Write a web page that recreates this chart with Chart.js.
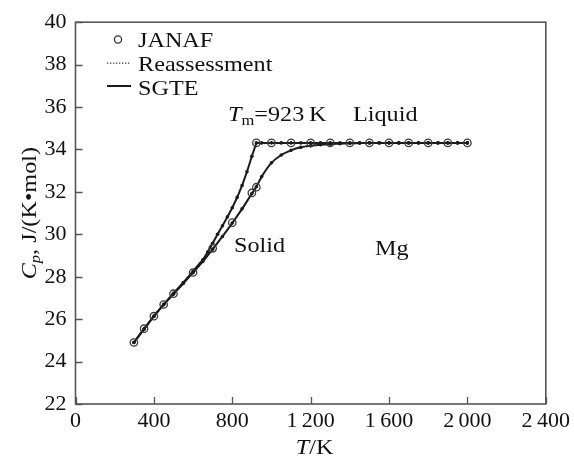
<!DOCTYPE html>
<html><head><meta charset="utf-8">
<script src="https://cdn.jsdelivr.net/npm/chart.js@4.4.1/dist/chart.umd.min.js"></script>
<style>html,body{margin:0;padding:0;background:#fff;} canvas{display:block;}</style>
</head><body>
<canvas id="c" width="574" height="459"></canvas>
<script>
// ---- data ----
const xTickValues = [0, 400, 800, 1200, 1600, 2000, 2400];
const xTickLabels = ['0', '400', '800', '1\u2009200', '1\u2009600', '2\u2009000', '2\u2009400'];
const yTickValues = [22, 24, 26, 28, 30, 32, 34, 36, 38, 40];
const yTickLabels = ['22', '24', '26', '28', '30', '32', '34', '36', '38', '40'];

// JANAF tabulated points (open circles)
const janafT  = [298, 350, 400, 450, 500, 600, 700, 800, 900, 923, 923, 1000, 1100, 1200, 1300, 1400, 1500, 1600, 1700, 1800, 1900, 2000];
const janafCp = [24.90, 25.55, 26.14, 26.69, 27.20, 28.20, 29.34, 30.55, 31.95, 32.22, 34.31, 34.31, 34.31, 34.31, 34.31, 34.31, 34.31, 34.31, 34.31, 34.31, 34.31, 34.31];

// Reassessment (steep curve with kink at Tm = 923 K)
const reassessT  = [298, 350, 400, 450, 500, 550, 600, 650, 675, 700, 725, 750, 775, 800, 825, 850, 875, 900, 923,
                    950, 1000, 1050, 1100, 1150, 1200, 1250, 1300, 1350, 1400, 1450, 1500, 1550, 1600, 1650, 1700, 1750, 1800, 1850, 1900, 1950, 2000];
const reassessCp = [24.90, 25.52, 26.14, 26.70, 27.22, 27.72, 28.26, 28.80, 29.17, 29.58, 30.00, 30.40, 30.82, 31.25, 31.74, 32.30, 32.95, 33.68, 34.31,
                    34.31, 34.31, 34.31, 34.31, 34.31, 34.31, 34.31, 34.31, 34.31, 34.31, 34.31, 34.31, 34.31, 34.31, 34.31, 34.31, 34.31, 34.31, 34.31, 34.31, 34.31, 34.31];

// SGTE (smooth curve reaching the liquid value near 1200 K)
const sgteT  = [298, 350, 400, 450, 500, 550, 600, 650, 700, 750, 800, 850, 900, 923, 950, 1000, 1050, 1100, 1150, 1200, 1250, 1300, 1350, 1400, 1450,
                1500, 1550, 1600, 1650, 1700, 1750, 1800, 1850, 1900, 1950, 2000];
const sgteCp = [24.90, 25.55, 26.14, 26.68, 27.18, 27.68, 28.19, 28.72, 29.30, 29.90, 30.53, 31.20, 31.92, 32.24, 32.72, 33.37, 33.74, 33.96, 34.10, 34.17, 34.22, 34.25, 34.27, 34.29, 34.30,
                34.31, 34.31, 34.31, 34.31, 34.31, 34.31, 34.31, 34.31, 34.31, 34.31, 34.31];

const seriesLabels = ['JANAF', 'Reassessment', 'SGTE'];

function pts(xs, ys) { return xs.map((x, i) => ({x: x, y: ys[i]})); }

const SERIF = '"Liberation Serif", "Times New Roman", serif';
Chart.defaults.font.family = SERIF;
Chart.defaults.color = '#111';

const INK = '#1b1b1b';
const AXIS = '#555';
const SX = 1.1; // horizontal stretch of the serif text in the reference

function drawRich(ctx, parts, x, y, align) {
  ctx.save();
  ctx.translate(x, y);
  ctx.scale(SX, 1);
  let total = 0;
  parts.forEach(p => { ctx.font = p.font; total += ctx.measureText(p.t).width; });
  let cx = align === 'center' ? -total / 2 : 0;
  ctx.textBaseline = 'alphabetic';
  ctx.textAlign = 'left';
  ctx.fillStyle = '#111';
  parts.forEach(p => {
    ctx.font = p.font;
    ctx.fillText(p.t, cx, p.dy || 0);
    cx += ctx.measureText(p.t).width;
  });
  ctx.restore();
}

const decor = {
  id: 'decor',
  afterDraw(chart) {
    const ctx = chart.ctx;
    const a = chart.chartArea;
    const xs = chart.scales.x, ys = chart.scales.y;
    ctx.save();
    // frame
    ctx.strokeStyle = AXIS;
    ctx.lineWidth = 1.6;
    ctx.strokeRect(a.left, a.top, a.right - a.left, a.bottom - a.top);
    // inward ticks
    ctx.beginPath();
    xTickValues.forEach(v => {
      const px = Math.round(xs.getPixelForValue(v)) + 0.5;
      ctx.moveTo(px, a.bottom); ctx.lineTo(px, a.bottom - 7);
    });
    yTickValues.forEach(v => {
      const py = Math.round(ys.getPixelForValue(v)) + 0.5;
      ctx.moveTo(a.left, py); ctx.lineTo(a.left + 7, py);
    });
    ctx.lineWidth = 1.3;
    ctx.stroke();

    // legend
    ctx.strokeStyle = '#333';
    ctx.lineWidth = 1.3;
    ctx.beginPath(); ctx.arc(118, 39.5, 3.6, 0, Math.PI * 2); ctx.stroke();
    ctx.fillStyle = '#444';
    for (let x = 107; x <= 130; x += 3) { ctx.fillRect(x, 62.5, 1.3, 1.3); }
    ctx.strokeStyle = INK; ctx.lineWidth = 2;
    ctx.beginPath(); ctx.moveTo(107, 86); ctx.lineTo(131, 86); ctx.stroke();
    const f22 = '22px ' + SERIF;
    drawRich(ctx, [{t: seriesLabels[0], font: f22}], 138, 47);
    drawRich(ctx, [{t: seriesLabels[1], font: f22}], 138, 71);
    drawRich(ctx, [{t: seriesLabels[2], font: f22}], 138, 95);

    // annotations
    drawRich(ctx, [
      {t: 'T', font: 'italic 22px ' + SERIF},
      {t: 'm', font: '15px ' + SERIF, dy: 4},
      {t: '=923\u2009K', font: f22}
    ], 228, 121);
    drawRich(ctx, [{t: 'Liquid', font: f22}], 353, 121);
    drawRich(ctx, [{t: 'Solid', font: f22}], 234, 251.5);
    drawRich(ctx, [{t: 'Mg', font: f22}], 375, 255);

    // axis titles
    drawRich(ctx, [
      {t: 'T', font: 'italic 22px ' + SERIF},
      {t: '/K', font: f22}
    ], (a.left + a.right) / 2 + 4, 454, 'center');
    ctx.save();
    ctx.translate(36, (a.top + a.bottom) / 2);
    ctx.rotate(-Math.PI / 2);
    drawRich(ctx, [
      {t: 'C', font: 'italic 22px ' + SERIF},
      {t: 'p', font: 'italic 15px ' + SERIF, dy: 4},
      {t: ', J/(K\u2022mol)', font: f22}
    ], 0, 0, 'center');
    ctx.restore();
    ctx.restore();
  }
};

new Chart(document.getElementById('c'), {
  type: 'scatter',
  data: {
    datasets: [
      {
        label: seriesLabels[0],
        data: pts(janafT, janafCp),
        showLine: false,
        pointStyle: 'circle',
        pointRadius: 3.7,
        pointBorderWidth: 1.3,
        pointBorderColor: '#3a3a3a',
        pointBackgroundColor: 'rgba(255,255,255,0)'
      },
      {
        label: seriesLabels[1],
        data: pts(reassessT, reassessCp),
        showLine: true,
        borderColor: INK,
        borderWidth: 2,
        pointRadius: 1.8,
        pointBorderWidth: 0,
        pointBackgroundColor: INK,
        tension: 0
      },
      {
        label: seriesLabels[2],
        data: pts(sgteT, sgteCp),
        showLine: true,
        borderColor: INK,
        borderWidth: 2,
        pointRadius: 1.8,
        pointBorderWidth: 0,
        pointBackgroundColor: INK,
        cubicInterpolationMode: 'monotone'
      }
    ]
  },
  options: {
    responsive: false,
    animation: false,
    events: [],
    layout: {padding: {top: 17.5, right: 27, left: 0, bottom: 0}},
    plugins: {legend: {display: false}, tooltip: {enabled: false}},
    scales: {
      x: {
        type: 'linear', min: 0, max: 2400,
        afterBuildTicks: s => { s.ticks = xTickValues.map(v => ({value: v})); },
        afterFit: s => { s.height = 55; },
        grid: {display: false, drawTicks: false},
        border: {display: false},
        ticks: {
          padding: 4,
          maxRotation: 0,
          autoSkip: false,
          font: {size: 22, family: SERIF},
          color: '#111',
          callback: v => xTickLabels[xTickValues.indexOf(v)]
        }
      },
      y: {
        type: 'linear', min: 22, max: 40,
        afterBuildTicks: s => { s.ticks = yTickValues.map(v => ({value: v})); },
        afterFit: s => { s.width = 75.5; },
        grid: {display: false, drawTicks: false},
        border: {display: false},
        ticks: {
          padding: 9,
          autoSkip: false,
          font: {size: 22, family: SERIF},
          color: '#111',
          callback: v => yTickLabels[yTickValues.indexOf(v)]
        }
      }
    }
  },
  plugins: [decor]
});
</script>
</body></html>
